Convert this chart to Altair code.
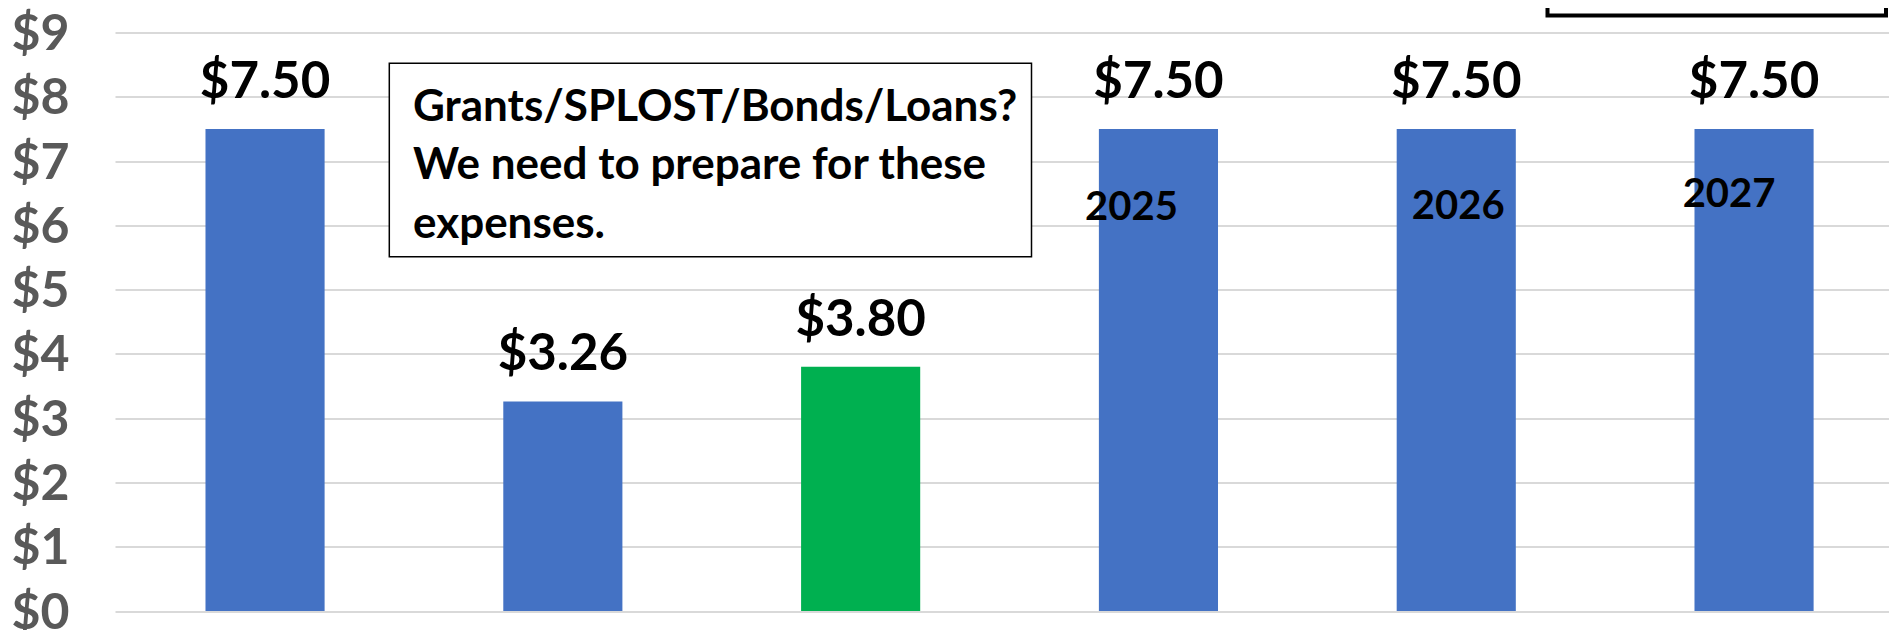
import altair as alt
import pandas as pd

# ---------------- data ----------------
categories = ["2022", "2023", "2024", "2025", "2026", "2027"]
values = [7.50, 3.26, 3.80, 7.50, 7.50, 7.50]
value_labels = ["$7.50", "$3.26", "$3.80", "$7.50", "$7.50", "$7.50"]
bar_colors = ["#4472C4", "#4472C4", "#00B050", "#4472C4", "#4472C4", "#4472C4"]
year_labels = ["2025", "2026", "2027"]
y_ticks = [0, 1, 2, 3, 4, 5, 6, 7, 8, 9]
note_lines = ["Grants/SPLOST/Bonds/Loans?", "We need to prepare for these", "expenses."]

df = pd.DataFrame({"cat": categories, "value": values, "label": value_labels})

# ---------------- layout / style ----------------
W, H = 1774, 578.5
year_offsets = {"2025": (-27, 79), "2026": (2, 78.5), "2027": (-25, 66.5)}

xscale = alt.Scale(domain=categories, paddingInner=0.6, paddingOuter=0.2785, align=0.5455)
yscale = alt.Scale(domain=[0, 9], nice=False, zero=True)

x = alt.X("cat:N", scale=xscale, axis=None, sort=categories)
y = alt.Y(
    "value:Q",
    scale=yscale,
    axis=alt.Axis(
        values=y_ticks,
        labelExpr="'$' + datum.value",
        labelFont="Lato",
        labelFontSize=50,
        labelFontWeight="bold",
        labelColor="#595959",
        labelPadding=46,
        labelOffset=2,
        labelOverlap=False,
        labelBound=False,
        labelFlush=False,
        ticks=False,
        domain=False,
        grid=True,
        gridColor="#D9D9D9",
        gridWidth=2,
        title=None,
    ),
)

base = alt.Chart(df)

bars = base.mark_bar().encode(
    x=x,
    y=y,
    color=alt.Color("cat:N", scale=alt.Scale(domain=categories, range=bar_colors), legend=None),
)

vlabels = base.mark_text(
    font="Lato", fontSize=51, fontWeight="bold", baseline="alphabetic", dy=-31, color="black"
).encode(x=x, y=y, text="label:N")

layers = [bars, vlabels]

for yr in year_labels:
    dx, dy = year_offsets[yr]
    layers.append(
        base.transform_filter(alt.datum.cat == yr)
        .mark_text(
            font="Lato",
            fontSize=40,
            fontWeight="bold",
            baseline="middle",
            dx=dx,
            dy=dy,
            color="black",
        )
        .encode(x=x, y=y, text="cat:N")
    )

one = pd.DataFrame({"k": [0]})

note_box = alt.Chart(one).mark_rect(fill="white", stroke="black", strokeWidth=1.5).encode(
    x=alt.value(274.3), x2=alt.value(916.5), y=alt.value(30.8), y2=alt.value(224.2)
)
note_text = alt.Chart(one).mark_text(
    align="left",
    baseline="alphabetic",
    font="Lato",
    fontSize=44,
    fontWeight="bold",
    lineHeight=58.5,
    color="black",
).encode(x=alt.value(298), y=alt.value(88), text=alt.value(note_lines))

top_box = alt.Chart(one).mark_rect(fill="white", stroke="black", strokeWidth=4).encode(
    x=alt.value(1432.5), x2=alt.value(1771), y=alt.value(-90), y2=alt.value(-17)
)

layers += [note_box, note_text, top_box]

chart = (
    alt.layer(*layers)
    .properties(
        width=W,
        height=H,
        autosize=alt.AutoSizeParams(type="none"),
        padding={"left": 107, "top": 24.5, "right": 0, "bottom": 19},
    )
    .configure_view(stroke=None)
)

chart.save("out.html", embed_options={"renderer": "svg", "actions": False})
